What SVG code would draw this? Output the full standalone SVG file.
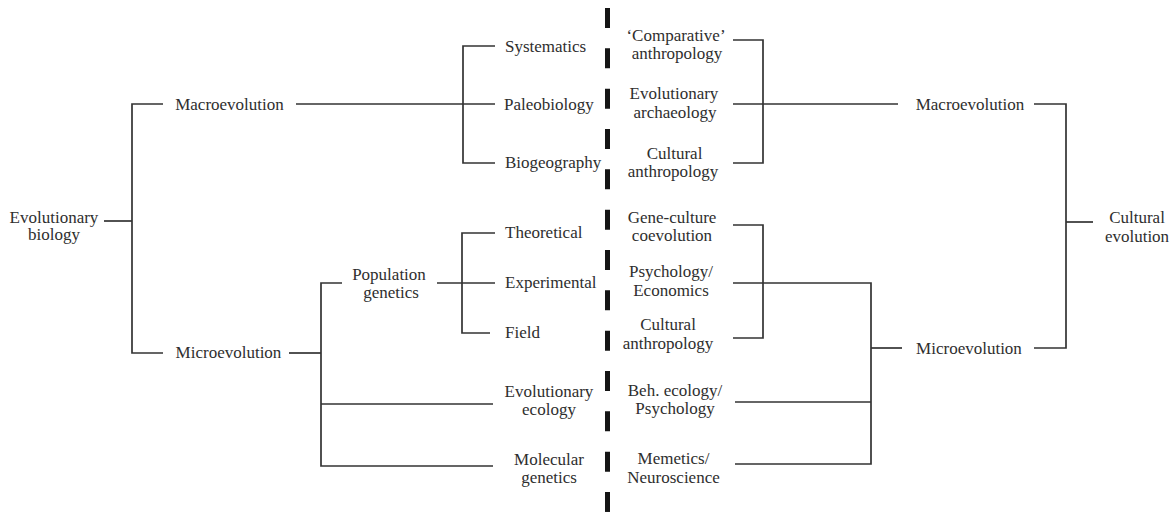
<svg xmlns="http://www.w3.org/2000/svg" width="1175" height="519" viewBox="0 0 1175 519">
<style>
text{font-family:"Liberation Serif","Times New Roman",serif;font-size:17px;fill:#2e2e2e}
.c{text-anchor:middle}
.ln{fill:none;stroke:#333;stroke-width:1.7}
.dash{fill:none;stroke:#151515;stroke-width:5;stroke-dasharray:20 20.33}
</style>
<rect width="1175" height="519" fill="#fff"/>
<g id="connectors">
<path class="ln" d="M104,221 H132"/>
<path class="ln" d="M163,104 H132 V353 H163"/>
<path class="ln" d="M296,104 H495"/>
<path class="ln" d="M495,46 H463 V163 H495"/>
<path class="ln" d="M289,353 H321"/>
<path class="ln" d="M342,283 H321 V466 H493"/>
<path class="ln" d="M321,404 H493"/>
<path class="ln" d="M437,283 H495"/>
<path class="ln" d="M495,233 H462 V333 H490"/>
<path class="ln" d="M733,40 H763 V163 H733"/>
<path class="ln" d="M733,104 H898"/>
<path class="ln" d="M1034,104 H1066 V348 H1034"/>
<path class="ln" d="M1066,222 H1093"/>
<path class="ln" d="M733,225 H763 V338 H733"/>
<path class="ln" d="M733,283 H871 V464 H735"/>
<path class="ln" d="M735,402 H871"/>
<path class="ln" d="M871,348 H902"/>
</g>
<g id="divider"><path class="dash" d="M607.5,8 V519"/></g>
<g id="evolutionary-biology"><text class="c" x="54" y="223">Evolutionary</text><text class="c" x="54" y="240">biology</text></g>
<g id="macro-left"><text class="c" x="229.5" y="110">Macroevolution</text></g>
<g id="micro-left"><text class="c" x="228.5" y="358">Microevolution</text></g>
<g id="systematics"><text x="505" y="52">Systematics</text></g>
<g id="paleobiology"><text x="504" y="110">Paleobiology</text></g>
<g id="biogeography"><text x="505" y="168">Biogeography</text></g>
<g id="population-genetics"><text class="c" x="389" y="280">Population</text><text class="c" x="391" y="298">genetics</text></g>
<g id="theoretical"><text x="505" y="238">Theoretical</text></g>
<g id="experimental"><text x="505" y="288">Experimental</text></g>
<g id="field"><text x="505" y="338">Field</text></g>
<g id="evolutionary-ecology"><text class="c" x="549" y="397">Evolutionary</text><text class="c" x="549" y="415">ecology</text></g>
<g id="molecular-genetics"><text class="c" x="549" y="465">Molecular</text><text class="c" x="549" y="483">genetics</text></g>
<g id="comparative-anthropology"><text class="c" x="676" y="41">‘Comparative’</text><text class="c" x="677" y="59">anthropology</text></g>
<g id="evolutionary-archaeology"><text class="c" x="674" y="99">Evolutionary</text><text class="c" x="675" y="118">archaeology</text></g>
<g id="cultural-anthropology-1"><text class="c" x="674.5" y="159">Cultural</text><text class="c" x="673" y="177">anthropology</text></g>
<g id="gene-culture"><text class="c" x="672" y="223">Gene-culture</text><text class="c" x="672" y="241">coevolution</text></g>
<g id="psychology-economics"><text class="c" x="671" y="277">Psychology/</text><text class="c" x="671" y="296">Economics</text></g>
<g id="cultural-anthropology-2"><text class="c" x="668" y="330">Cultural</text><text class="c" x="668" y="349">anthropology</text></g>
<g id="beh-ecology"><text class="c" x="675" y="396">Beh. ecology/</text><text class="c" x="675" y="414">Psychology</text></g>
<g id="memetics"><text class="c" x="673.5" y="464">Memetics/</text><text class="c" x="673.5" y="483">Neuroscience</text></g>
<g id="macro-right"><text class="c" x="970" y="110">Macroevolution</text></g>
<g id="micro-right"><text class="c" x="969" y="353.5">Microevolution</text></g>
<g id="cultural-evolution"><text class="c" x="1137" y="223">Cultural</text><text class="c" x="1137" y="242">evolution</text></g>
</svg>
